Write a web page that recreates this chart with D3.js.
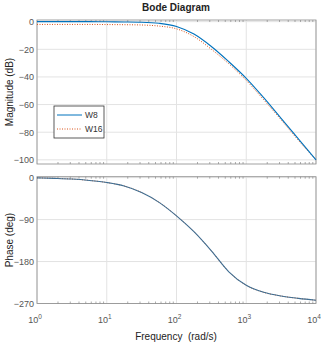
<!DOCTYPE html>
<html>
<head>
<meta charset="utf-8">
<script src="https://cdn.jsdelivr.net/npm/d3@7"></script>
<style>
  body { margin: 0; background: #fff; }
  svg { display: block; font-family: "Liberation Sans", Arial, sans-serif; }
  .tick text { fill: #555; font-size: 9px; }
</style>
</head>
<body>
<svg id="bode" width="321" height="345"></svg>
<script>
var svg = d3.select("#bode");

// Data, frequency in log10 steps
var logFreq = [0, 0.25, 0.5, 0.75, 1, 1.25, 1.5, 1.75, 2, 2.25, 2.5, 2.75, 3, 3.25, 3.5, 3.75, 4];
var magW8  = [0, 0, 0, 0, -0.1, -0.2, -0.4, -1.2, -3.5, -9, -18, -29, -41, -55, -70, -85, -100];
var magW16 = [-2, -2, -2, -2, -2.1, -2.2, -2.4, -3.2, -5.2, -10.8, -20, -30.5, -42.5, -56.5, -71, -86, -100];
var phaseW8  = [-0.5, -1.5, -3, -6, -10.5, -18, -32, -53, -82, -116, -157, -202, -231, -246, -254, -259, -263];
var phaseW16 = [-0.5, -1.5, -3, -6, -10.5, -18, -32, -53, -82, -116, -157, -202, -231, -246, -254, -259, -263];
var magTicks = [0, -20, -40, -60, -80, -100];
var phaseTicks = [0, -90, -180, -270];
var decades = [0, 1, 2, 3, 4];
var seriesNames = ["W8", "W16"];

// Colors
var blue = "#0072BD";
var red = "#D95319";
var grid_gray = "#e3e3e3";
var axis_gray = "#8a8a8a";

var left = 37, right = 316;
var x = d3.scaleLog().domain([1, 1e4]).range([left, right]);
var yMag = d3.scaleLinear().domain([-103, 1.2]).range([164, 20]);
var yPh = d3.scaleLinear().domain([-270, 2]).range([303.5, 176.7]);

// minor tick values 2..9 per decade
var minor = [];
decades.slice(0, 4).forEach(function(d) {
  for (var k = 2; k <= 9; k++) minor.push(k * Math.pow(10, d));
});

function drawPanel(y, ticks) {
  var g = svg.append("g");
  var top = y.range()[1], bottom = y.range()[0];

  // grid
  g.selectAll(".vgrid").data(decades).enter().append("line")
    .attr("x1", function(d) { return x(Math.pow(10, d)); })
    .attr("x2", function(d) { return x(Math.pow(10, d)); })
    .attr("y1", top).attr("y2", bottom)
    .style("stroke", grid_gray);
  g.selectAll(".hgrid").data(ticks).enter().append("line")
    .attr("x1", left).attr("x2", right)
    .attr("y1", function(d) { return y(d); })
    .attr("y2", function(d) { return y(d); })
    .style("stroke", grid_gray);

  // box
  g.append("rect")
    .attr("x", left).attr("y", top)
    .attr("width", right - left).attr("height", bottom - top)
    .style("fill", "none").style("stroke", axis_gray).style("stroke-width", 0.8);

  // minor ticks top and bottom
  g.selectAll(".mt").data(minor).enter().append("line")
    .attr("x1", function(d) { return x(d); }).attr("x2", function(d) { return x(d); })
    .attr("y1", bottom).attr("y2", bottom - 2)
    .style("stroke", axis_gray).style("stroke-width", 0.7);
  g.selectAll(".mt2").data(minor).enter().append("line")
    .attr("x1", function(d) { return x(d); }).attr("x2", function(d) { return x(d); })
    .attr("y1", top).attr("y2", top + 2)
    .style("stroke", axis_gray).style("stroke-width", 0.7);

  // y axis labels
  var ax = g.append("g")
    .attr("transform", "translate(" + left + ",0)")
    .call(d3.axisLeft(y).tickValues(ticks).tickSize(0).tickPadding(3));
  ax.select(".domain").remove();
  return g;
}

drawPanel(yMag, magTicks);
drawPanel(yPh, phaseTicks);

// lines
function lineFor(y) {
  return d3.line()
    .x(function(d) { return x(Math.pow(10, d[0])); })
    .y(function(d) { return y(d[1]); })
    .curve(d3.curveMonotoneX);
}
svg.append("path")
  .datum(d3.zip(logFreq, magW16))
  .attr("d", lineFor(yMag))
  .style("fill", "none").style("stroke", red).style("stroke-width", 1)
  .style("stroke-dasharray", "1,1.5");
svg.append("path")
  .datum(d3.zip(logFreq, magW8))
  .attr("d", lineFor(yMag))
  .style("fill", "none").style("stroke", blue).style("stroke-width", 1.1);
svg.append("path")
  .datum(d3.zip(logFreq, phaseW16))
  .attr("d", lineFor(yPh))
  .style("fill", "none").style("stroke", red).style("stroke-width", 1)
  .style("stroke-dasharray", "1,1.5");
svg.append("path")
  .datum(d3.zip(logFreq, phaseW8))
  .attr("d", lineFor(yPh))
  .style("fill", "none").style("stroke", "#3f6f94").style("stroke-width", 1.1);

// x tick labels 10^n
var xl = svg.selectAll(".xlab").data(decades).enter().append("text")
  .attr("x", function(d) { return x(Math.pow(10, d)) - 2; })
  .attr("y", 323)
  .attr("text-anchor", "middle")
  .style("font-size", "9px").style("fill", "#555");
xl.append("tspan").text("10");
xl.append("tspan").attr("dy", -4).style("font-size", "6.5px").text(function(d) { return d; });

// titles
svg.append("text").attr("x", 176).attr("y", 11)
  .attr("text-anchor", "middle")
  .style("font-size", "10px").style("font-weight", "bold").style("fill", "#222")
  .text("Bode Diagram");
svg.append("text").attr("x", 176).attr("y", 340)
  .attr("text-anchor", "middle")
  .style("font-size", "10px").style("fill", "#222")
  .attr("xml:space", "preserve")
  .text("Frequency  (rad/s)");
svg.append("text")
  .attr("transform", "translate(13," + ((20 + 164) / 2) + ") rotate(-90)")
  .attr("text-anchor", "middle")
  .style("font-size", "10px").style("fill", "#222")
  .text("Magnitude (dB)");
svg.append("text")
  .attr("transform", "translate(13," + ((176.7 + 303.5) / 2) + ") rotate(-90)")
  .attr("text-anchor", "middle")
  .style("font-size", "10px").style("fill", "#222")
  .text("Phase (deg)");

// legend
var leg = svg.append("g").attr("transform", "translate(54,106)");
leg.append("rect").attr("width", 50).attr("height", 32)
  .style("fill", "#fff").style("stroke", "#333").style("stroke-width", 0.8);
leg.selectAll(".legline").data(seriesNames).enter().append("line")
  .attr("x1", 3).attr("x2", 28)
  .attr("y1", function(d, i) { return 9 + i * 14; })
  .attr("y2", function(d, i) { return 9 + i * 14; })
  .style("stroke", function(d, i) { return i == 0 ? blue : red; })
  .style("stroke-width", 1)
  .style("stroke-dasharray", function(d, i) { return i == 0 ? null : "1,1.5"; });
leg.selectAll(".legtext").data(seriesNames).enter().append("text")
  .attr("x", 31)
  .attr("y", function(d, i) { return 12 + i * 14; })
  .style("font-size", "8.5px").style("fill", "#333")
  .text(function(d) { return d; });
</script>
</body>
</html>
